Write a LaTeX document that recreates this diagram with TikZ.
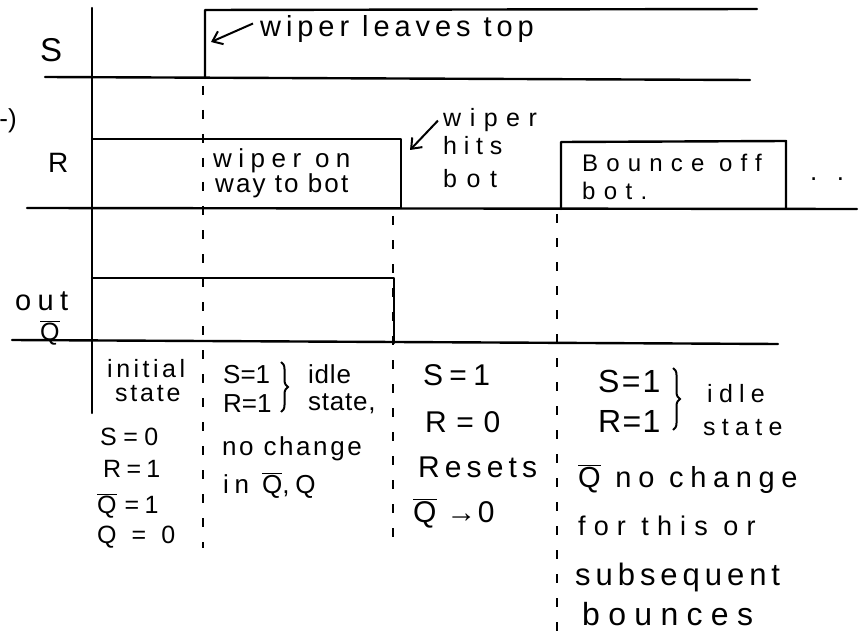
\documentclass[tikz,border=0pt]{standalone}
\usepackage{fontspec}
\setmainfont{Liberation Sans}
\newfontfamily\hw{Liberation Sans}
\usetikzlibrary{arrows.meta,decorations.pathreplacing,calc}
\newcommand\Qb{\ensuremath{\overline{\hbox{Q}}}}
\newcommand\LS[1]{\addfontfeature{LetterSpace=#1}}
\begin{document}
\begin{tikzpicture}[x=1pt,y=-1pt,
  sig/.style={line width=2.4pt, line cap=round, line join=round},
  guide/.style={line width=1.8pt, dash pattern=on 9pt off 15pt},
  txt/.style={anchor=base west, inner sep=0pt, font=\hw\fontsize{26}{30}\selectfont},
  sz/.style={font=\hw\fontsize{#1}{#1}\selectfont},
  ls/.style={execute at begin node={\LS{#1}}},
  barb/.style={-{Straight Barb[length=9pt,width=14pt,line width=2pt]}, line width=2pt},
  br/.style={decorate, decoration={brace, amplitude=7pt}, line width=2pt}]
\fill[white] (0,0) rectangle (859,631);
\useasboundingbox (0,0) rectangle (859,631);

% axis
\draw[sig] (92,8) -- (92,413);
% S
\draw[sig] (45,77) -- (750,80);
\draw[sig] (205,78) -- (205,10) -- (757,9);
% R
\draw[sig] (27,208) -- (857,209);
\draw[sig] (92,139) -- (401,139) -- (401,208);
\draw[sig] (561,209) -- (561,142) -- (786,141) -- (786,208);
% out
\draw[sig] (12,340) -- (778,344);
\draw[sig] (92,278) -- (394,278) -- (394,343);
% guides
\draw[guide] (203,86) -- (203,548);
\draw[guide] (393,216) -- (393,540);
\draw[guide] (557,214) -- (557,631);

% labels
\node[txt, sz=33] (lS) at (40,62) {S};
\node[txt, sz=28] (lR) at (48,173) {R};
\node[txt, anchor=base east] (paren) at (17,128) {-)};
\node[txt, sz=29, ls=22] (lout) at (15,310) {out};
\node[txt, sz=25] (lQ) at (40,340) {\Qb};

\node[txt, sz=29, ls=17] (leaves) at (260,37) {wiper leaves top};
\node[txt, sz=25, ls=34] (hits1) at (443,127) {wiper};
\node[txt, sz=25, ls=27] (hits2) at (443,155) {hits};
\node[txt, sz=25, ls=38] (hits3) at (443,188) {bot};
\node[txt, font=\hw\fontsize{26}{23}\selectfont, align=left] (way) at (213,193)
  {\LS{25}wiper on\\\hspace*{2pt}\LS{8}way to bot};
\node[txt, sz=24, ls=34] (bounce1) at (582,172) {Bounce off};
\node[txt, sz=24, ls=35] (bounce2) at (582,200) {bot.};
\node[txt, ls=28] (dots) at (810,181) {. .};

\coordinate (sedge) at (211,42);
\coordinate (redge) at (410,150);
\draw[barb] ($(leaves.west)+(-7,-6)$) -- (sedge);
\draw[barb] ($(hits1.west)+(-5,0)$) -- (redge);

% column 1
\node[txt, font=\hw\fontsize{25}{24}\selectfont, align=left] (init) at (107,401)
  {\LS{14}initial\\\hspace*{8pt}\LS{11}state};
\node[txt, sz=25, ls=26] (c1s) at (100,445) {S=0};
\node[txt, sz=25, ls=21] (c1r) at (103,477) {R=1};
\node[txt, sz=25, ls=21] (c1qb) at (97,513) {\Qb\kern8pt=1};
\node[txt, sz=25, ls=60] (c1q) at (97,543) {Q=0};

% column 2
\node[txt] (c2s) at (223,383) {S=1};
\node[txt] (c2r) at (223,412) {R=1};
\draw[br] (281,362) -- (281,412);
\node[txt, ls=3] (c2i) at (308,383) {idle};
\node[txt, ls=3] (c2st) at (308,410) {state,};
\node[txt, ls=10] (c2n) at (222,455) {no change};
\node[txt, ls=22] (c2q) at (223,493) {in \Qb,Q};

% column 3
\node[txt, sz=30, ls=21] (c3s) at (423,385) {S=1};
\node[txt, sz=30, ls=32] (c3r) at (425,432) {R=0};
\node[txt, sz=30, ls=17] (c3res) at (418,477) {Resets};
\node[txt, sz=30, ls=5] (c3q) at (413,522) {\Qb\ →0};

% column 4
\node[txt, sz=32, ls=7] (c4s) at (598,392) {S=1};
\node[txt, sz=32, ls=4] (c4r) at (598,432) {R=1};
\draw[br] (673,368) -- (673,430);
\node[txt, sz=25, ls=25] (c4i) at (707,402) {idle};
\node[txt, sz=25, ls=25] (c4st) at (703,435) {state};
\node[txt, sz=29, ls=23] (c4n) at (578,487) {\Qb\ no change};
\node[txt, sz=27, ls=30] (c4f) at (578,535) {for this or};
\node[txt, sz=31, ls=16] (c4sub) at (575,585) {subsequent};
\node[txt, sz=32, ls=26] (c4b) at (582,625) {bounces};
\end{tikzpicture}
\end{document}
